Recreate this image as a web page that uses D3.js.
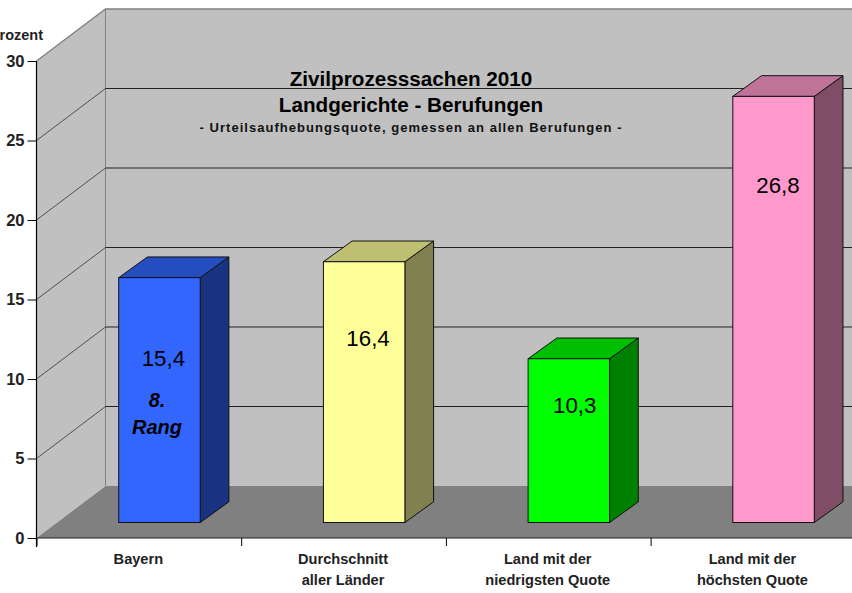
<html lang="en"><head>
<meta http-equiv="Content-Type" content="text/html; charset=UTF-8">
<title>Zivilprozesssachen 2010</title>
<script type="text/javascript" src="https://cdn.jsdelivr.net/npm/d3@7"></script>
<style type="text/css">
body { margin: 0; background: #fff; }
svg { display: block; }
text { font-family: "Liberation Sans", Arial, sans-serif; }
</style>
</head>
<body>

<script type="text/javascript">

var categories = [["Bayern"], ["Durchschnitt", "aller Länder"], ["Land mit der", "niedrigsten Quote"], ["Land mit der", "höchsten Quote"]];
var values = [15.4, 16.4, 10.3, 26.8];
var valueLabels = ["15,4", "16,4", "10,3", "26,8"];
var frontColors = ["#3366ff", "#ffff99", "#00ff00", "#ff99cc"];
var topColors = ["#264dbf", "#bfbf73", "#00bf00", "#bf7399"];
var sideColors = ["#1a3380", "#808050", "#008000", "#804d66"];
var yTicks = [0, 5, 10, 15, 20, 25, 30];
var titleLines = ["Zivilprozesssachen 2010", "Landgerichte - Berufungen"];
var subTitle = "- Urteilsaufhebungsquote, gemessen an allen Berufungen -";
var rangLabel = ["8.", "Rang"];

var width = 852;
var height = 593;

// 3d offsets
var wallDx = 69, wallDy = -52;
var barShiftX = 20.6, barShiftY = -15.5;
var barDx = 28.7, barDy = -20.7;

var svg = d3.select("body").append("svg")
            .attr("width", width)
            .attr("height", height);

var y = d3.scaleLinear().domain([0, 30]).range([538, 61]);
var xEdge = d3.scaleLinear().domain([0, 4]).range([36.5, 855.3]);
var x = d3.scaleBand().domain(d3.range(4)).range([36.5, 855.3]).paddingInner(0.602).paddingOuter(0.301);

function pts(a){ return a.map(function(p){ return p.join(","); }).join(" "); }

var x0 = xEdge(0), xEnd = width + 5;

// back wall, side wall, floor
svg.append("polygon").attr("fill", "#c0c0c0")
  .attr("points", pts([[x0 + wallDx, y(30) + wallDy], [xEnd, y(30) + wallDy], [xEnd, y(0) + wallDy], [x0 + wallDx, y(0) + wallDy]]));
svg.append("polygon").attr("fill", "#c0c0c0")
  .attr("points", pts([[x0, y(30)], [x0 + wallDx, y(30) + wallDy], [x0 + wallDx, y(0) + wallDy], [x0, y(0)]]));
svg.append("polygon").attr("fill", "#808080")
  .attr("points", pts([[x0, y(0)], [x0 + wallDx, y(0) + wallDy], [xEnd, y(0) + wallDy], [xEnd, y(0)]]));

// outline of the walls
svg.append("polyline").attr("fill", "none").attr("stroke", "#808080").attr("stroke-width", 1.3)
  .attr("points", pts([[x0, y(30)], [x0 + wallDx, y(30) + wallDy], [xEnd, y(30) + wallDy]]));
svg.append("line").attr("stroke", "#808080").attr("stroke-width", 1)
  .attr("x1", x0 + wallDx).attr("x2", x0 + wallDx)
  .attr("y1", y(30) + wallDy).attr("y2", y(0) + wallDy);

// gridlines, thin on the side wall and heavier on the back wall
var gridTicks = yTicks.filter(function(d){ return d > 0 && d < 30; });
svg.append("g").selectAll("line").data(gridTicks).enter().append("line")
  .attr("stroke", "#333")
  .attr("stroke-width", 0.8)
  .attr("x1", x0).attr("x2", x0 + wallDx)
  .attr("y1", function(d){ return y(d); })
  .attr("y2", function(d){ return y(d) + wallDy; });
svg.append("g").selectAll("line").data(gridTicks).enter().append("line")
  .attr("stroke", "#222")
  .attr("stroke-width", 1.2)
  .attr("x1", x0 + wallDx).attr("x2", xEnd)
  .attr("y1", function(d){ return y(d) + wallDy; })
  .attr("y2", function(d){ return y(d) + wallDy; });

// bars
var bars = svg.append("g").selectAll("g").data(values).enter().append("g");

function bx(i){ return x(i) + barShiftX; }
function by(v){ return y(v) + barShiftY; }
var by0 = y(0) + barShiftY;

bars.append("polygon")
  .attr("fill", function(d, i){ return sideColors[i]; })
  .attr("stroke", "#111").attr("stroke-linejoin", "round")
  .attr("points", function(d, i){
    var r = bx(i) + x.bandwidth();
    return pts([[r, by(d)], [r + barDx, by(d) + barDy], [r + barDx, by0 + barDy], [r, by0]]);
  });
bars.append("polygon")
  .attr("fill", function(d, i){ return topColors[i]; })
  .attr("stroke", "#111").attr("stroke-linejoin", "round")
  .attr("points", function(d, i){
    var l = bx(i), r = l + x.bandwidth();
    return pts([[l, by(d)], [l + barDx, by(d) + barDy], [r + barDx, by(d) + barDy], [r, by(d)]]);
  });
bars.append("rect")
  .attr("fill", function(d, i){ return frontColors[i]; })
  .attr("stroke", "#111")
  .attr("x", function(d, i){ return bx(i); })
  .attr("y", function(d){ return by(d); })
  .attr("width", x.bandwidth())
  .attr("height", function(d){ return by0 - by(d); });

// value labels, each placed by hand below the bar top like in the original
var labelDrop = [88.5, 84.5, 54.5, 97];
var labelShift = [3.9, 3.9, 5.9, 4.4];
bars.append("text")
  .attr("text-anchor", "middle")
  .attr("font-size", 22.3)
  .attr("fill", "#000")
  .attr("x", function(d, i){ return bx(i) + x.bandwidth() / 2 + labelShift[i]; })
  .attr("y", function(d, i){ return by(d) + labelDrop[i]; })
  .text(function(d, i){ return valueLabels[i]; });

svg.append("g").selectAll("text").data(rangLabel).enter().append("text")
  .attr("text-anchor", "middle")
  .attr("font-size", 20)
  .attr("font-weight", "bold")
  .attr("font-style", "italic")
  .attr("fill", "#000")
  .attr("x", 157)
  .attr("y", function(d, i){ return 407 + i * 26.5; })
  .text(function(d){ return d; });

// axes
var yAxis = d3.axisLeft(y).tickValues(yTicks).tickSize(9).tickPadding(3);
var gy = svg.append("g").attr("transform", "translate(" + x0 + ",0)").call(yAxis);
gy.select(".domain").attr("d", "M0,61V547").attr("stroke", "#000").attr("stroke-width", 1.2);
gy.selectAll("text")
  .attr("font-size", 16.5).attr("font-weight", "bold").attr("fill", "#222")
  .style("font-family", "'Liberation Sans', Arial, sans-serif");

var xAxis = d3.axisBottom(xEdge).tickValues([0, 1, 2, 3, 4]).tickSize(8).tickFormat("");
var gx = svg.append("g").attr("transform", "translate(0,538)").call(xAxis);
gx.select(".domain").attr("d", "M" + x0 + ",0H" + xEnd).attr("stroke", "#222").attr("stroke-width", 1.2);

svg.append("g").selectAll("text").data(categories).enter().append("text")
  .attr("text-anchor", "middle")
  .attr("font-size", 14.6)
  .attr("font-weight", "bold")
  .attr("fill", "#222")
  .each(function(d, i){
    d3.select(this).selectAll("tspan").data(d).enter().append("tspan")
      .attr("x", xEdge(i + 0.5) - 0.5)
      .attr("y", function(t, j){ return 564 + j * 21; })
      .text(function(t){ return t; });
  });

svg.append("text")
  .attr("text-anchor", "end")
  .attr("x", 43).attr("y", 40)
  .attr("font-size", 14.5).attr("font-weight", "bold").attr("fill", "#222")
  .text("Prozent");

// title block
svg.append("g").selectAll("text").data(titleLines).enter().append("text")
  .attr("text-anchor", "middle")
  .attr("x", 411)
  .attr("y", function(d, i){ return 85.5 + i * 26; })
  .attr("font-size", 20.7)
  .attr("font-weight", "bold")
  .attr("fill", "#000")
  .text(function(d){ return d; });
svg.append("text")
  .attr("text-anchor", "middle")
  .attr("x", 411).attr("y", 132)
  .attr("font-size", 13)
  .attr("font-weight", "bold")
  .attr("letter-spacing", 1.04)
  .attr("fill", "#111")
  .text(subTitle);

</script>
</body></html>
